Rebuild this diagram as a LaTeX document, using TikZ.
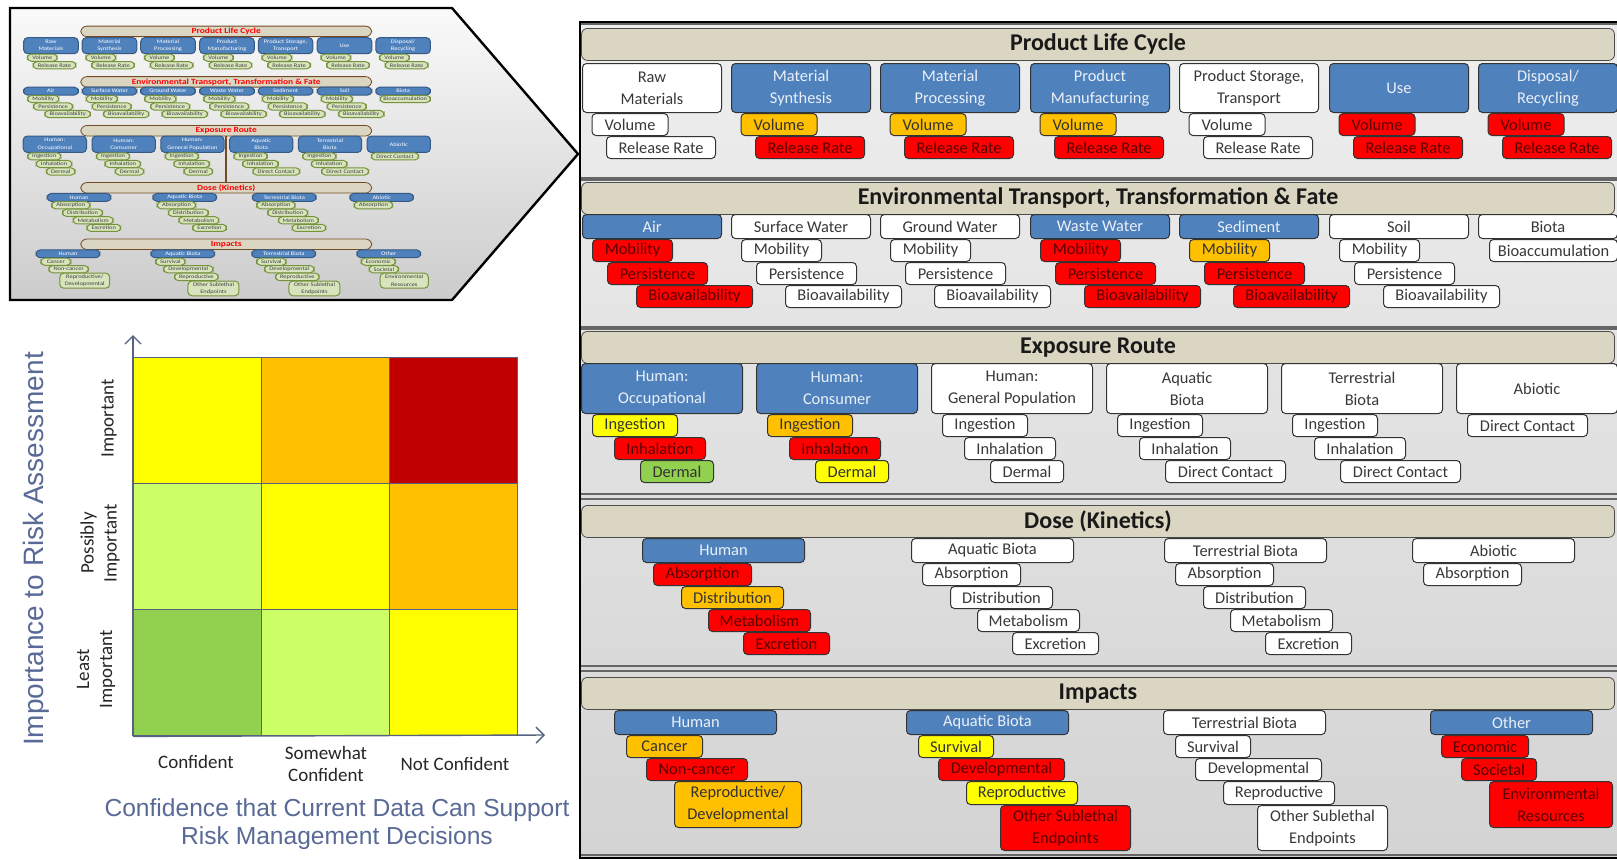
\documentclass[tikz,border=0pt]{standalone}
\usepackage{fontspec}
\setmainfont{Carlito}
\newfontfamily\arialfont{Liberation Sans}
\usetikzlibrary{arrows.meta}

\definecolor{catblue}{RGB}{79,129,189}
\definecolor{itred}{RGB}{255,0,0}
\definecolor{itorange}{RGB}{255,192,0}
\definecolor{ityellow}{RGB}{255,255,0}
\definecolor{itgreen}{RGB}{146,208,80}
\definecolor{ltgreen}{RGB}{204,255,102}
\definecolor{darkred}{RGB}{192,0,0}
\definecolor{headtan}{RGB}{218,214,194}
\definecolor{slate}{RGB}{89,106,150}
\definecolor{gridline}{RGB}{86,98,128}
\definecolor{thgreen}{RGB}{215,228,189}
\definecolor{thgreenline}{RGB}{118,146,60}

\tikzset{
  box/.style={draw=black!80, line width=0.5pt, rounded corners=2pt, anchor=north west,
    inner sep=0pt, align=center, minimum height=11pt, font=\fontsize{8.2}{11}\selectfont},
  kb/.style={box, fill=catblue, text=white!88!catblue},
  kw/.style={box, fill=white, text=black!78},
  iw/.style={box, fill=white, text=black!78},
  ir/.style={box, fill=itred, text=red!35!black},
  io/.style={box, fill=itorange, text=black!80},
  iy/.style={box, fill=ityellow, text=black!80},
  ig/.style={box, fill=itgreen, text=black!80},
  head/.style={draw=black!70, fill=headtan, rounded corners=3pt, anchor=north, inner sep=0pt,
    minimum width=516.5pt, minimum height=16pt, text=black!90,
    font=\bfseries\fontsize{12}{14}\selectfont},
  cell/.style={draw=gridline, line width=0.7pt, anchor=north west, inner sep=0pt,
    minimum width=64pt, minimum height=63pt},
  axis/.style={draw=gridline, line width=0.7pt, -{Straight Barb[length=4pt,width=8pt]}},
  ylab/.style={rotate=90, align=center, text=black!85, font=\fontsize{9.5}{11.5}\selectfont},
  xlab/.style={align=center, text=black!85, font=\fontsize{9.5}{11}\selectfont},
}

\newcommand{\lifepanel}{%
  \node[head] (plc) at (1098,28) {Product Life Cycle};
  \foreach \i/\x/\k/\v/\r/\t in {1/582/kw/iw/iw/{Raw\\Materials},
      2/731/kb/io/ir/{Material\\Synthesis}, 3/880/kb/io/ir/{Material\\Processing},
      4/1030/kb/io/ir/{Product\\Manufacturing}, 5/1179/kw/iw/iw/{Product Storage,\\Transport},
      6/1329/kb/ir/ir/{Use}, 7/1478/kb/ir/ir/{Disposal/\\Recycling}}{
    \node[\k, minimum width=69.5pt, minimum height=24.5pt] (plc\i) at (\x,63) {\t};
    \node[\v, minimum width=38pt] (plcv\i) at (\x+9.5,113) {Volume};
    \node[\r, minimum width=54.5pt] (plcr\i) at (\x+24,136) {Release Rate};
  }
  \node[head] (etf) at (1098,182) {Environmental Transport, Transformation \& Fate};
  \foreach \i/\x/\k/\a/\b/\c/\t in {1/582/kb/ir/ir/ir/Air, 2/731/kw/iw/iw/iw/{Surface Water},
      3/880/kw/iw/iw/iw/{Ground Water}, 4/1030/kb/ir/ir/ir/{Waste Water},
      5/1179/kb/io/ir/ir/Sediment, 6/1329/kw/iw/iw/iw/Soil}{
    \node[\k, minimum width=69.5pt, minimum height=12pt] (etf\i) at (\x,214) {\t};
    \node[\a, minimum width=40pt] (etfm\i) at (\x+10,239) {Mobility};
    \node[\b, minimum width=50pt] (etfp\i) at (\x+25,262) {Persistence};
    \node[\c, minimum width=58pt] (etfb\i) at (\x+54,285) {Bioavailability};
  }
  \node[kw, minimum width=69.5pt, minimum height=12pt] (etf7) at (1478,214) {Biota};
  \node[iw, minimum width=64pt] (etfa7) at (1489,239) {Bioaccumulation};
  \node[head] (exr) at (1098,331) {Exposure Route};
  \foreach \i/\x/\k/\a/\b/\c/\w/\l/\t in {1/581/kb/iy/ir/ig/36.5pt/Dermal/{Human:\\Occupational},
      2/756/kb/io/ir/iy/36.5pt/Dermal/{Human:\\Consumer},
      3/931/kw/iw/iw/iw/36.5pt/Dermal/{Human:\\General Population},
      4/1106/kw/iw/iw/iw/60pt/{Direct Contact}/{Aquatic\\Biota},
      5/1281/kw/iw/iw/iw/60pt/{Direct Contact}/{Terrestrial\\Biota}}{
    \node[\k, minimum width=80.5pt, minimum height=25pt] (exr\i) at (\x,363) {\t};
    \node[\a, minimum width=42.5pt] (exri\i) at (\x+11,414) {Ingestion};
    \node[\b, minimum width=45.5pt] (exrh\i) at (\x+33,437) {Inhalation};
    \node[\c, minimum width=\w] (exrd\i) at (\x+59,460) {\l};
  }
  \node[kw, minimum width=80.5pt, minimum height=25pt] (exr6) at (1456,363) {Abiotic};
  \node[iw, minimum width=60pt] (exri6) at (1467,414) {Direct Contact};
  \node[head] (dose) at (1098,505) {Dose (Kinetics)};
  \foreach \i/\x/\k/\a/\b/\c/\d/\t in {1/642/kb/ir/io/ir/ir/Human,
      2/911/kw/iw/iw/iw/iw/{Aquatic Biota}, 3/1164/kw/iw/iw/iw/iw/{Terrestrial Biota}}{
    \node[\k, minimum width=81pt, minimum height=12pt] (dose\i) at (\x,538) {\t};
    \node[\a, minimum width=49pt] (dosea\i) at (\x+11,563) {Absorption};
    \node[\b, minimum width=51pt] (dosed\i) at (\x+39,586) {Distribution};
    \node[\c, minimum width=51pt] (dosem\i) at (\x+66,609) {Metabolism};
    \node[\d, minimum width=43pt] (dosee\i) at (\x+101,632) {Excretion};
  }
  \node[kw, minimum width=81pt, minimum height=12pt] (dose4) at (1412,538) {Abiotic};
  \node[iw, minimum width=49pt] (dosea4) at (1423,563) {Absorption};
  \node[head] (imp) at (1098,677) {Impacts};
  \node[kb, minimum width=81pt, minimum height=12pt] (imp1) at (614,710) {Human};
  \node[io, minimum width=38pt] (impa1) at (626,735) {Cancer};
  \node[ir, minimum width=50.5pt] (impb1) at (646,758) {Non-cancer};
  \node[io, minimum width=63.5pt, minimum height=23pt] (impc1) at (674,781) {Reproductive/\\Developmental};
  \foreach \i/\x/\k/\a/\b/\c/\d/\t in {2/906/kb/iy/ir/iy/ir/{Aquatic Biota},
      3/1163/kw/iw/iw/iw/iw/{Terrestrial Biota}}{
    \node[\k, minimum width=81pt, minimum height=12pt] (imp\i) at (\x,710) {\t};
    \node[\a, minimum width=37.5pt] (impa\i) at (\x+12,735) {Survival};
    \node[\b, minimum width=63pt] (impb\i) at (\x+32,758) {Developmental};
    \node[\c, minimum width=55.5pt, minimum height=11.5pt] (impc\i) at (\x+60,781) {Reproductive};
    \node[\d, minimum width=65pt, minimum height=22.5pt] (impd\i) at (\x+94,805) {Other Sublethal\\Endpoints};
  }
  \node[kb, minimum width=81pt, minimum height=12pt] (imp4) at (1430,710) {Other};
  \node[ir, minimum width=43.5pt] (impa4) at (1441,735) {Economic};
  \node[ir, minimum width=37.5pt] (impb4) at (1461,758) {Societal};
  \node[ir, minimum width=61.5pt, minimum height=23pt] (impc4) at (1489,781) {Environmental\\Resources};
}

\begin{document}
\begin{tikzpicture}[x=0.5pt, y=-0.5pt]
\useasboundingbox[fill=white] (0,0) rectangle (1617,859);

% thumbnail
\shade[draw=black, line width=1.2pt, top color=gray!4, bottom color=gray!40]
  (10,8) -- (452,8) -- (578,154) -- (452,300) -- (10,300) -- cycle;
\begin{scope}[shift={(-205.3,16.8)}, xscale=0.393, yscale=0.328, transform shape, name prefix=th-,
    kb/.style={box, fill=catblue, draw=catblue!70!black, text=white}, kw/.style={kb},
    iw/.style={box, fill=thgreen, draw=thgreenline, text=black!75},
    ir/.style={iw}, io/.style={iw}, iy/.style={iw}, ig/.style={iw},
    head/.append style={minimum width=370pt, text=red, draw=brown!60!black}]
  \lifepanel
  \draw[brown!60!black, line width=0.8pt] (exr.south) -- (dose.north);
\end{scope}

% risk matrix
\foreach \i/\j/\c in {1/1/ityellow, 1/2/itorange, 1/3/darkred,
    2/1/ltgreen, 2/2/ityellow, 2/3/itorange,
    3/1/itgreen, 3/2/ltgreen, 3/3/ityellow}
  \node[cell, fill=\c] (m\i\j) at ({133+128*(\j-1)},{357+126*(\i-1)}) {};
\coordinate (ytip) at (133,335);
\coordinate (xtip) at (545,735);
\draw[axis] (m31.south west) -- (ytip);
\draw[axis] (m31.south west) -- (xtip);
\node[ylab] (li) at (109,418) {Important};
\node[ylab] (lpi) at (100,543) {Possibly\\Important};
\node[ylab] (lli) at (96,669) {Least\\Important};
\node[xlab] (lc) at (196,762) {Confident};
\node[xlab] (lsc) at (326,764) {Somewhat\\Confident};
\node[xlab] (lnc) at (455,764) {Not Confident};
\node[rotate=90, text=slate, font=\arialfont\fontsize{14}{16}\selectfont] (ytitle) at (36,549)
  {Importance to Risk Assessment};
\node[align=center, text=slate, font=\arialfont\fontsize{12.3}{14}\selectfont] (xtitle) at (337,824)
  {Confidence that Current Data Can Support\\Risk Management Decisions};

% main panel
\shade[top color=gray!13, bottom color=gray!34] (580,22) rectangle (1620,858);
\foreach \a/\b in {24/178, 180/327, 329/494, 499/666, 671/855}
  \draw[black!60, line width=0.6pt] (580,\a) rectangle (1620,\b);
\draw[line width=1.3pt] (1620,22) -- (580,22) -- (580,858) -- (1620,858);
\lifepanel
\end{tikzpicture}
\end{document}
